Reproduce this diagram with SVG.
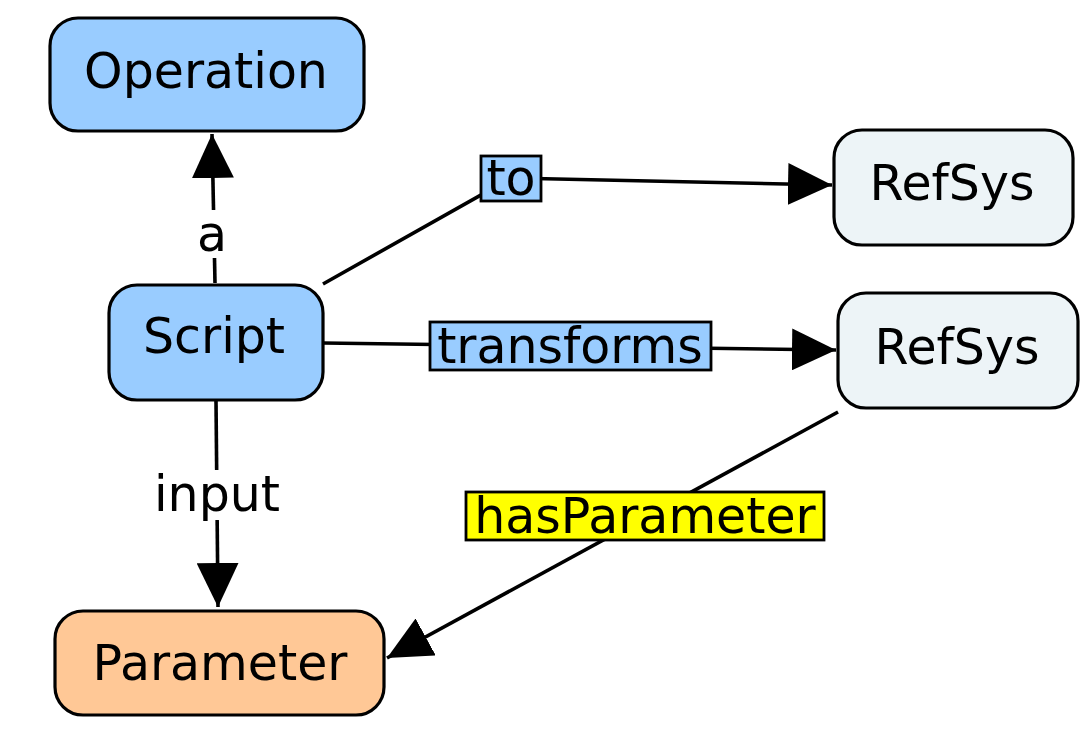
<svg xmlns="http://www.w3.org/2000/svg" width="1087" height="753" viewBox="0 0 1087 753">
<style>
text{font-family:"DejaVu Sans","Verdana",sans-serif;font-size:49px;fill:#000;text-anchor:middle;dominant-baseline:central}
.node{stroke:#000;stroke-width:3.2}
.edge{stroke:#000;stroke-width:3.6;fill:none}
.lbl{stroke:#000;stroke-width:2.8}
</style>
<defs>
<marker id="arr" markerUnits="userSpaceOnUse" markerWidth="44" markerHeight="42" refX="44" refY="21" orient="auto" viewBox="0 0 44 42">
<path d="M0,0 L44,21 L0,42 z" fill="#000"/>
</marker>
</defs>
<rect width="1087" height="753" fill="#fff"/>
<g id="connectors">
<g id="e-a">
<line class="edge" x1="215" y1="283" x2="212" y2="134" marker-end="url(#arr)"/>
<rect x="192" y="210" width="40" height="48" fill="#fff"/>
<text x="212" y="234">a</text>
</g>
<g id="e-input">
<line class="edge" x1="216" y1="401" x2="218" y2="607" marker-end="url(#arr)"/>
<rect x="150" y="470" width="134" height="50" fill="#fff"/>
<text x="217" y="494">input</text>
</g>
<g id="e-to">
<polyline class="edge" points="323,284 511,178 832,185" marker-end="url(#arr)"/>
<rect class="lbl" x="481" y="156" width="60" height="45" fill="#99ccff"/>
<text x="511" y="178">to</text>
</g>
<g id="e-transforms">
<line class="edge" x1="323" y1="343" x2="836" y2="350" marker-end="url(#arr)"/>
<rect class="lbl" x="430" y="322" width="281" height="48" fill="#99ccff"/>
<text x="570" y="346">transforms</text>
</g>
<g id="e-hasParameter">
<line class="edge" x1="838" y1="412" x2="387" y2="658" marker-end="url(#arr)"/>
<rect class="lbl" x="466" y="492" width="358" height="48" fill="#ffff00"/>
<text x="645" y="516">hasParameter</text>
</g>
</g>
<g id="n-operation">
<rect class="node" x="50" y="18" width="314" height="113" rx="28" fill="#99ccff"/>
<text x="206" y="71">Operation</text>
</g>
<g id="n-script">
<rect class="node" x="109" y="285" width="214" height="115" rx="28" fill="#99ccff"/>
<text x="214" y="336">Script</text>
</g>
<g id="n-refsys1">
<rect class="node" x="834" y="130" width="239" height="115" rx="28" fill="#edf4f7"/>
<text x="952" y="183">RefSys</text>
</g>
<g id="n-refsys2">
<rect class="node" x="838" y="293" width="240" height="115" rx="28" fill="#edf4f7"/>
<text x="957" y="347">RefSys</text>
</g>
<g id="n-parameter">
<rect class="node" x="55" y="611" width="329" height="104" rx="28" fill="#ffc896"/>
<text x="220" y="663">Parameter</text>
</g>
</svg>
